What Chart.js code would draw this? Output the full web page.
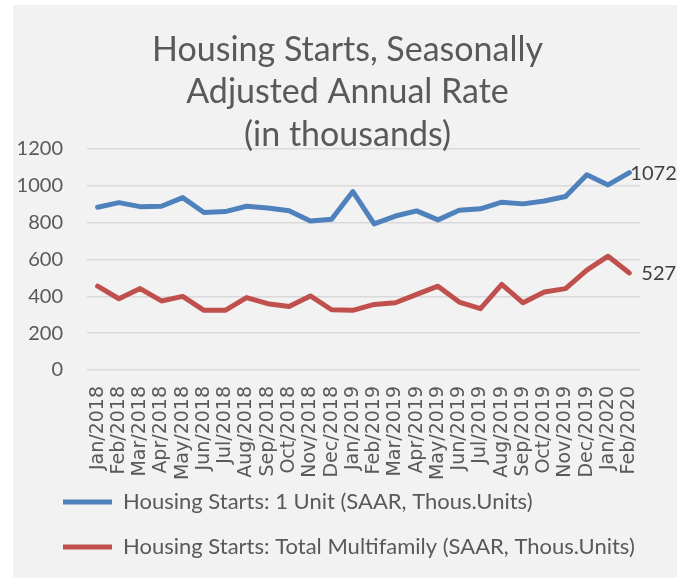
<!DOCTYPE html>
<html>
<head>
<meta charset="utf-8">
<script src="https://cdn.jsdelivr.net/npm/chart.js@4"></script>
<style>
  html, body { margin: 0; padding: 0; background: #ffffff; }
  #wrap { width: 677px; height: 578px; }
</style>
</head>
<body>
<div id="wrap"><canvas id="chart" width="677" height="578"></canvas></div>
<script>
// --------------------------- Data

const months = ['Jan/2018', 'Feb/2018', 'Mar/2018', 'Apr/2018', 'May/2018', 'Jun/2018',
    'Jul/2018', 'Aug/2018', 'Sep/2018', 'Oct/2018', 'Nov/2018', 'Dec/2018',
    'Jan/2019', 'Feb/2019', 'Mar/2019', 'Apr/2019', 'May/2019', 'Jun/2019',
    'Jul/2019', 'Aug/2019', 'Sep/2019', 'Oct/2019', 'Nov/2019', 'Dec/2019',
    'Jan/2020', 'Feb/2020'];

const oneUnit = [884, 909, 887, 889, 936, 855, 860, 889, 880, 865, 809, 818,
    969, 793, 836, 864, 815, 867, 875, 911, 902, 918, 942, 1060, 1005, 1072];

const multiFamily = [455, 387, 442, 375, 400, 324, 324, 393, 360, 345, 402, 327,
    324, 356, 365, 411, 455, 369, 333, 465, 365, 424, 442, 542, 618, 527];

const titleLines = ['Housing Starts, Seasonally', 'Adjusted Annual Rate', '(in thousands)'];
const seriesNames = ['Housing Starts: 1 Unit (SAAR, Thous.Units)',
    'Housing Starts: Total Multifamily (SAAR, Thous.Units)'];

const COLORS = {
    blue: '#4f81bd',
    red: '#c0504d',
    text: '#595959',
    grid: '#d9d9d9',
    panel: '#f2f2f2'
};

const CALIBRI_LIKE = "Lato, 'Open Sans', sans-serif";

// --------------------------- Plugins

// grey panel behind the whole chart (the picture has a thin white margin top/left)
const panelBg = {
    id: 'panelBg',
    beforeDraw(chart) {
        const ctx = chart.ctx;
        ctx.save();
        ctx.fillStyle = COLORS.panel;
        ctx.fillRect(13, 5, chart.width - 13, chart.height - 5);
        ctx.restore();
    }
};

// title is centred a little right of the layout box, legend is inset and
// tucked up under the month labels
const blockNudge = {
    id: 'blockNudge',
    afterLayout(chart) {
        const tb = chart.titleBlock;
        if (tb) {
            tb.left += 21;
            tb.right += 21;
        }
        const lg = chart.legend;
        if (lg) {
            lg.left += 27;
            lg.right += 27;
            lg.top -= 16;
            lg.bottom -= 16;
        }
    }
};

// value label next to the last point of each line
const lastLabel = {
    id: 'lastLabel',
    afterDatasetsDraw(chart) {
        const ctx = chart.ctx;
        ctx.save();
        ctx.font = '20px ' + CALIBRI_LIKE;
        ctx.fillStyle = '#404040';
        ctx.textAlign = 'left';
        ctx.textBaseline = 'middle';
        chart.data.datasets.forEach((ds, i) => {
            const meta = chart.getDatasetMeta(i);
            const pt = meta.data[meta.data.length - 1];
            const val = ds.data[ds.data.length - 1];
            ctx.fillText(String(val), pt.x + ds.labelGap, pt.y + 1);
        });
        ctx.restore();
    }
};

// --------------------------- Chart

const data = {
    labels: months,
    datasets: [
        {
            label: seriesNames[0],
            data: oneUnit,
            borderColor: COLORS.blue,
            backgroundColor: COLORS.blue,
            borderWidth: 5,
            labelGap: 1
        },
        {
            label: seriesNames[1],
            data: multiFamily,
            borderColor: COLORS.red,
            backgroundColor: COLORS.red,
            borderWidth: 5,
            labelGap: 12
        }
    ]
};

const options = {
    responsive: false,
    animation: false,
    layout: {
        padding: { left: 13, right: 37, top: 0, bottom: -6 }
    },
    elements: {
        point: { radius: 0, hoverRadius: 0 },
        line: { tension: 0, borderJoinStyle: 'round', borderCapStyle: 'round' }
    },
    plugins: {
        title: {
            display: true,
            text: titleLines,
            color: COLORS.text,
            font: { family: CALIBRI_LIKE, size: 34, weight: 'normal', lineHeight: 1.25 },
            padding: { top: 28.5, bottom: -7 }
        },
        legend: {
            position: 'bottom',
            align: 'start',
            labels: {
                color: COLORS.text,
                font: { family: CALIBRI_LIKE, size: 22 },
                boxWidth: 49,
                boxHeight: 5,
                padding: 23,
                useBorderRadius: true,
                borderRadius: 2.5,
                generateLabels(chart) {
                    return chart.data.datasets.map((ds, i) => ({
                        text: ds.label,
                        fillStyle: ds.borderColor,
                        strokeStyle: ds.borderColor,
                        lineWidth: 0,
                        fontColor: COLORS.text,
                        datasetIndex: i
                    }));
                }
            }
        },
        tooltip: { enabled: false }
    },
    scales: {
        x: {
            offset: true,
            grid: { display: false, drawTicks: false },
            border: { display: false },
            ticks: {
                autoSkip: false,
                minRotation: 90,
                maxRotation: 90,
                padding: 16,
                color: COLORS.text,
                font: { family: 'DejaVu Sans', size: 19 }
            },
            afterFit(scale) { scale.height = 114; }
        },
        y: {
            min: 0,
            max: 1200,
            grid: { color: COLORS.grid, lineWidth: 1.5, drawTicks: false },
            border: { display: false },
            ticks: {
                stepSize: 200,
                padding: 24,
                color: COLORS.text,
                font: { family: CALIBRI_LIKE, size: 20 },
                callback: (value) => String(value)
            },
            afterFit(scale) { scale.width = 74; }
        }
    }
};

const ctx = document.getElementById('chart');
const mainChart = new Chart(ctx, {
    type: 'line',
    data: data,
    options: options,
    plugins: [panelBg, blockNudge, lastLabel]
});
</script>
</body>
</html>
